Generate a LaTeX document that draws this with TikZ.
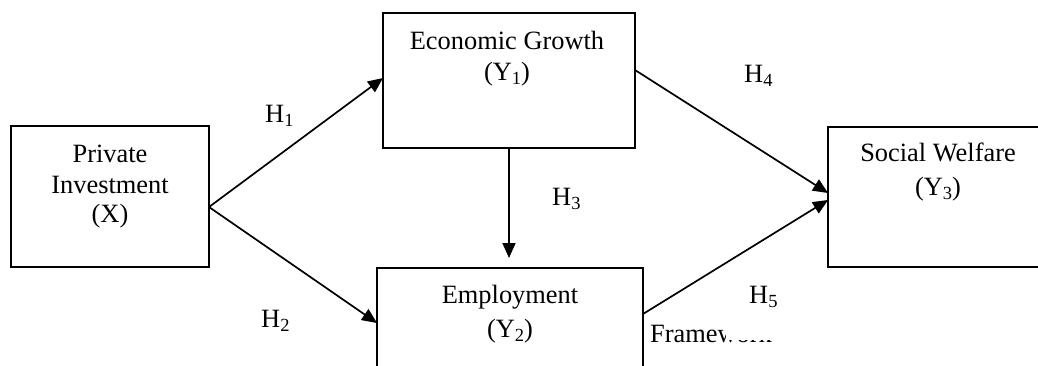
\documentclass[tikz,border=0pt]{standalone}
\usepackage{fontspec}
\setmainfont{Liberation Serif}
\usetikzlibrary{arrows.meta}
\newcommand{\sbs}[1]{\raisebox{-4pt}{\fontsize{18.5}{18.5}\selectfont #1}}
\begin{document}
\begin{tikzpicture}[x=1pt,y=-1pt,
  box/.style={draw, line width=1.8pt, outer sep=0pt, inner sep=0pt},
  lbl/.style={anchor=base, inner sep=0pt, font=\fontsize{26.4}{31}\selectfont},
  hlbl/.style={anchor=base west, inner sep=0pt, font=\fontsize{26.4}{31}\selectfont},
  arr/.style={line width=1.7pt, -{Triangle[length=15pt,width=13pt]}}]
\useasboundingbox (0,0) rectangle (1038,365);
\clip (0,0) rectangle (1038,365);
% boxes
\node[box, minimum width=198pt, minimum height=141pt] (X) at (110,196.5) {};
\node[box, minimum width=252pt, minimum height=135pt] (Y1) at (509,80.5) {};
\node[box, minimum width=266pt, minimum height=132pt] (Y2) at (510,334) {};
\node[box, minimum width=232pt, minimum height=140pt] (Y3) at (944,197) {};
% box texts
\node[lbl] (tx1) at (110,162) {Private};
\node[lbl] (tx2) at (110,193) {Investment};
\node[lbl] (tx3) at (110,222) {(X)};
\node[lbl] (ty1a) at (507,49) {Economic Growth};
\node[lbl] (ty1b) at (507,80) {(Y\sbs{1})};
\node[lbl] (ty2a) at (510,303) {Employment};
\node[lbl] (ty2b) at (510,337) {(Y\sbs{2})};
\node[lbl] (ty3a) at (938,161) {Social Welfare};
\node[lbl] (ty3b) at (938,195) {(Y\sbs{3})};
% connector end points
\coordinate (xo) at (209,207);
\coordinate (y1in) at (383,78);
\coordinate (y2in) at (377,323);
\coordinate (y1out) at (635,70);
\coordinate (y2out) at (643,314);
\coordinate (y3ina) at (828,193);
\coordinate (y3inb) at (828,200);
% connectors
\draw[arr] (xo) -- (y1in);
\draw[arr] (xo) -- (y2in);
\draw[arr, shorten >=10pt] (Y1.south) -- (Y1.south |- Y2.north);
\draw[arr] (y1out) -- (y3ina);
\draw[arr] (y2out) -- (y3inb);
% hypothesis labels
\node[hlbl] (h1) at (265,122) {H\sbs{1}};
\node[hlbl] (h2) at (261,327) {H\sbs{2}};
\node[hlbl] (h3) at (552,205) {H\sbs{3}};
\node[hlbl] (h4) at (744,82) {H\sbs{4}};
\node[hlbl] (h5) at (749,303) {H\sbs{5}};
% partly hidden caption
\node[hlbl] (fw) at (650,342) {Framework};
\fill[white] (726,312) rectangle (780,339.5);
\end{tikzpicture}
\end{document}
